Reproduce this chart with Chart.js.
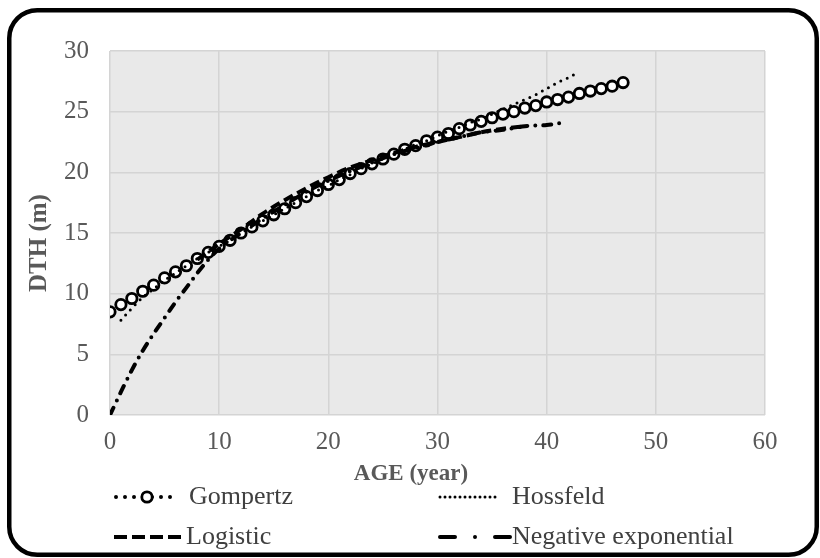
<!DOCTYPE html>
<html>
<head>
<meta charset="utf-8">
<title>DTH growth models</title>
<script src="https://cdn.jsdelivr.net/npm/chart.js@4.4.1/dist/chart.umd.min.js"></script>
<style>
  html, body { margin: 0; padding: 0; background: #fff; }
  #wrap { width: 820px; height: 558px; position: relative; }
</style>
</head>
<body>
<div id="wrap"><canvas id="canvas_dth"></canvas></div>
<script>
// dominant tree height (m) by age (year), four fitted models
var gompertzAge = [0,1,2,3,4,5,6,7,8,9,10,11,12,13,14,15,16,17,18,19,20,21,22,23,24,25,26,27,28,29,30,31,32,33,34,35,36,37,38,39,40,41,42,43,44,45,46,47];
var gompertzDth = [8.5,9.1,9.6,10.2,10.7,11.3,11.8,12.3,12.9,13.4,13.9,14.4,15.0,15.5,16.0,16.5,17.0,17.5,18.0,18.5,19.0,19.4,19.9,20.3,20.7,21.1,21.5,21.9,22.2,22.6,22.9,23.2,23.6,23.9,24.2,24.5,24.8,25.0,25.3,25.5,25.8,26.0,26.2,26.5,26.7,26.9,27.1,27.4];

var hossfeldAge = [1,2,3,4,5,6,7,8,9,10,11,12,13,14,15,16,17,18,19,20,21,22,23,24,25,26,27,28,29,30,31,32,33,34,35,36,37,38,39,40,41,42,43];
var hossfeldDth = [7.8,8.8,9.7,10.4,11.1,11.7,12.3,12.9,13.4,13.9,14.4,15.0,15.5,16.0,16.5,17.0,17.5,18.0,18.5,18.9,19.4,19.8,20.3,20.7,21.1,21.5,21.9,22.3,22.6,23.0,23.4,23.7,24.1,24.4,24.8,25.2,25.6,26.0,26.4,26.9,27.4,27.8,28.3];

var logisticAge = [8,10,12,14,16,18,20,22,24,26,28,30,32,34,36,38];
var logisticDth = [12.8,14.1,15.3,16.6,17.7,18.7,19.6,20.4,21.0,21.6,22.1,22.5,22.9,23.3,23.6,23.8];

var negExpAge = [0,1,2,3,4,5,6,7,8,9,10,12,14,16,18,20,22,24,26,28,30,32,34,36,38,40,41.5];
var negExpDth = [0,1.9,3.7,5.3,6.7,8.0,9.3,10.5,11.7,12.8,13.7,15.0,16.2,17.3,18.4,19.3,20.1,20.8,21.5,22.0,22.5,22.9,23.3,23.5,23.8,23.9,24.1];

var xTicks = [0,10,20,30,40,50,60];
var yTicks = [0,5,10,15,20,25,30];
var xTitle = 'AGE (year)';
var yTitle = 'DTH (m)';

function toPoints(ages, vals) {
  var pts = [];
  for (var i in ages) {
    pts.push({x: ages[i], y: vals[i]});
  }
  return pts;
}

var txtColor = '#595959';
var serif = "'Liberation Serif', 'Times New Roman', serif";

// plot area fill
var plotBg = {
  id: 'plotBg',
  beforeDraw: function(chart) {
    var a = chart.chartArea, ctx = chart.ctx;
    ctx.save();
    ctx.fillStyle = '#e9e9e9';
    ctx.fillRect(a.left, a.top, a.right - a.left, a.bottom - a.top);
    ctx.restore();
  }
};

// two-column legend, axis titles and the rounded frame
var legendSlots = [
  {sx: 116, ex: 178, tx: 189, y: 497},
  {sx: 440, ex: 500, tx: 512, y: 497},
  {sx: 114, ex: 183, tx: 186, y: 537},
  {sx: 440, ex: 510, tx: 512, y: 537}
];

var frameAndLegend = {
  id: 'frameAndLegend',
  afterDraw: function(chart) {
    var ctx = chart.ctx;
    var sets = chart.data.datasets;
    ctx.save();
    for (var i in sets) {
      var ds = sets[i], s = legendSlots[i];
      ctx.strokeStyle = '#000';
      ctx.lineWidth = ds.borderWidth;
      ctx.lineCap = ds.borderCapStyle || 'butt';
      ctx.setLineDash(ds.legendDash || ds.borderDash || []);
      ctx.beginPath();
      ctx.moveTo(s.sx, s.y);
      ctx.lineTo(s.ex, s.y);
      ctx.stroke();
      ctx.setLineDash([]);
      if (ds.pointRadius > 0) {
        ctx.beginPath();
        ctx.arc((s.sx + s.ex) / 2, s.y, ds.pointRadius, 0, Math.PI * 2);
        ctx.fillStyle = ds.pointBackgroundColor;
        ctx.fill();
        ctx.lineWidth = ds.pointBorderWidth;
        ctx.stroke();
      }
      ctx.fillStyle = '#404040';
      ctx.font = '26px ' + serif;
      ctx.textBaseline = 'middle';
      ctx.textAlign = 'left';
      ctx.fillText(ds.label, s.tx, s.y);
    }

    // axis titles
    ctx.fillStyle = txtColor;
    ctx.textAlign = 'center';
    ctx.textBaseline = 'middle';
    ctx.font = 'bold 23px ' + serif;
    ctx.fillText(xTitle, 411, 474);
    ctx.save();
    ctx.translate(40, 243);
    ctx.rotate(-Math.PI / 2);
    ctx.font = 'bold 25px ' + serif;
    ctx.fillText(yTitle, 0, 0);
    ctx.restore();

    // rounded outer frame
    var x = 9.25, y = 10.25, w = 807.5, h = 544.5, r = 28;
    ctx.lineWidth = 4.5;
    ctx.strokeStyle = '#000';
    ctx.beginPath();
    ctx.moveTo(x + r, y);
    ctx.arcTo(x + w, y, x + w, y + h, r);
    ctx.arcTo(x + w, y + h, x, y + h, r);
    ctx.arcTo(x, y + h, x, y, r);
    ctx.arcTo(x, y, x + w, y, r);
    ctx.closePath();
    ctx.stroke();
    ctx.restore();
  }
};

var configDth = {
  type: 'line',
  data: {
    datasets: [{
      label: 'Gompertz',
      data: toPoints(gompertzAge, gompertzDth),
      borderColor: '#000',
      borderWidth: 4,
      borderDash: [0, 9],
      borderCapStyle: 'round',
      pointRadius: 5.2,
      pointBorderWidth: 2.8,
      pointBackgroundColor: '#fff',
      pointBorderColor: '#000',
      order: 4
    }, {
      label: 'Hossfeld',
      data: toPoints(hossfeldAge, hossfeldDth),
      borderColor: '#000',
      borderWidth: 3,
      borderDash: [0, 7],
      legendDash: [0, 5],
      borderCapStyle: 'round',
      pointRadius: 0,
      order: 3
    }, {
      label: 'Logistic',
      data: toPoints(logisticAge, logisticDth),
      borderColor: '#000',
      borderWidth: 4,
      borderDash: [10, 5],
      legendDash: [13, 5],
      pointRadius: 0,
      order: 2
    }, {
      label: 'Negative exponential',
      data: toPoints(negExpAge, negExpDth),
      borderColor: '#000',
      borderWidth: 4,
      borderDash: [8, 8, 0, 8],
      legendDash: [15, 20, 0, 20],
      borderCapStyle: 'round',
      pointRadius: 0,
      order: 1
    }]
  },
  options: {
    responsive: true,
    maintainAspectRatio: false,
    animation: false,
    devicePixelRatio: 1,
    cubicInterpolationMode: 'monotone',
    layout: { padding: { top: 51, right: 55, bottom: 69, left: 0 } },
    plugins: {
      legend: { display: false },
      tooltip: { enabled: false }
    },
    scales: {
      x: {
        type: 'linear',
        min: 0,
        max: 60,
        afterBuildTicks: function(s) { s.ticks = xTicks.map(function(v) { return {value: v}; }); },
        afterFit: function(s) { s.height = 74; },
        ticks: { color: txtColor, padding: 12, font: { family: serif, size: 25 } },
        grid: { color: '#d4d4d4', lineWidth: 1.5, drawTicks: false },
        border: { display: false }
      },
      y: {
        min: 0,
        max: 30,
        afterBuildTicks: function(s) { s.ticks = yTicks.map(function(v) { return {value: v}; }); },
        afterFit: function(s) { s.width = 110; },
        ticks: { color: txtColor, padding: 21, font: { family: serif, size: 25 } },
        grid: { color: '#d4d4d4', lineWidth: 1.5, drawTicks: false },
        border: { display: false }
      }
    }
  },
  plugins: [plotBg, frameAndLegend]
};

var ctx_dth = document.getElementById('canvas_dth').getContext('2d');
new Chart(ctx_dth, configDth);
</script>
</body>
</html>
